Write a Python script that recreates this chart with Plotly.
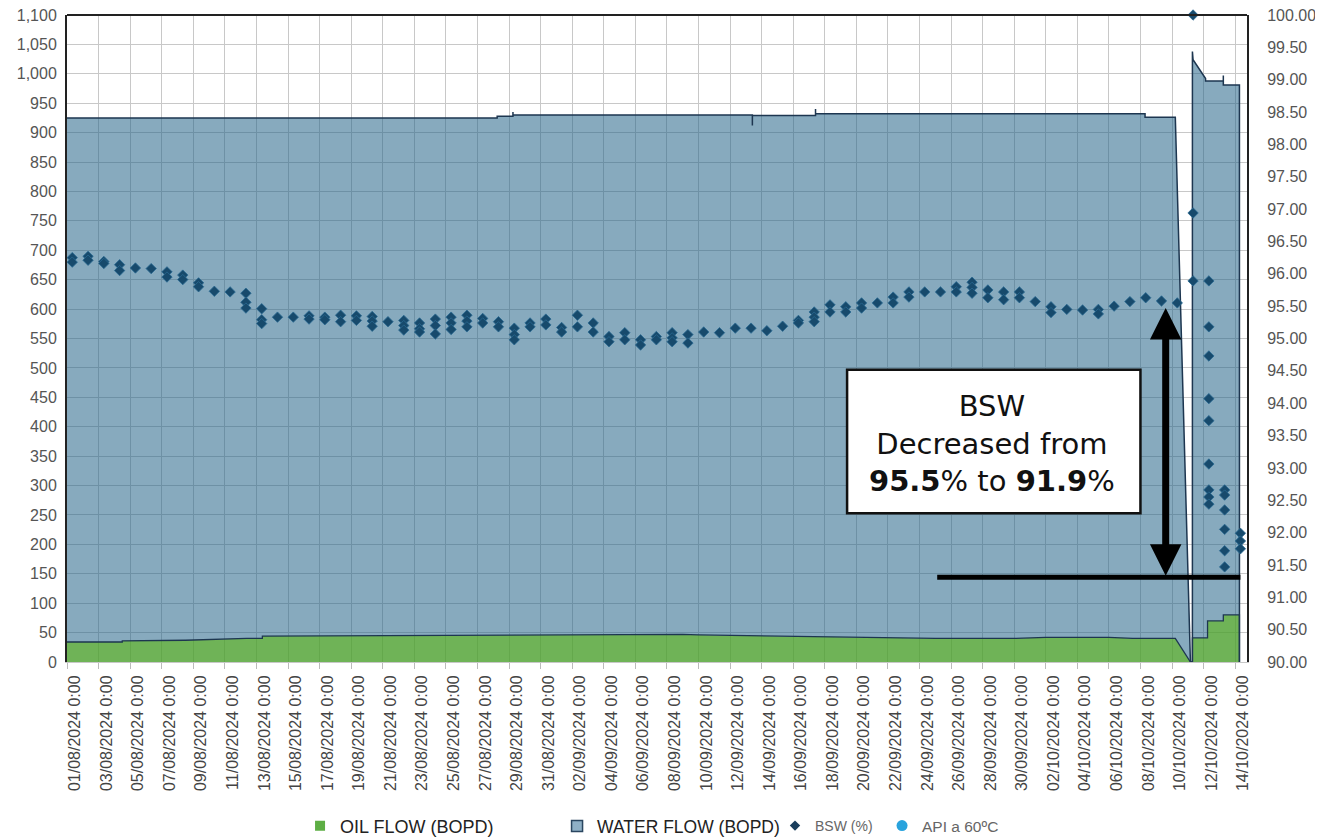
import plotly.graph_objects as go
import pandas as pd

# ---------------- data ----------------
oil_times = ["2024-08-01 00:00", "2024-08-04 12:00", "2024-08-04 12:01", "2024-08-08 12:00",
             "2024-08-08 12:01", "2024-08-12 09:00", "2024-08-13 09:00", "2024-08-13 09:01",
             "2024-08-20 12:00", "2024-08-25 00:00", "2024-09-01 00:00", "2024-09-04 00:00",
             "2024-09-09 00:00", "2024-09-10 00:00", "2024-09-15 00:00", "2024-09-20 00:00",
             "2024-09-25 00:00", "2024-09-30 00:00", "2024-10-02 00:00", "2024-10-06 00:00",
             "2024-10-07 12:00", "2024-10-10 05:00", "2024-10-11 04:00", "2024-10-11 07:00",
             "2024-10-11 07:01", "2024-10-12 06:00", "2024-10-12 06:01", "2024-10-13 06:00",
             "2024-10-13 06:01", "2024-10-14 06:30", "2024-10-14 06:31"]
oil_flow = [34, 34, 36, 36,
            37, 40, 40, 44,
            45, 46, 46, 47,
            47, 46, 44, 42,
            40, 40, 42, 42,
            40, 40, 0, 0,
            41, 41, 70, 70,
            80, 80, 0]

total_times = ["2024-08-01 00:00", "2024-08-28 06:00", "2024-08-28 06:01", "2024-08-29 06:00",
               "2024-08-29 06:01", "2024-08-29 06:02", "2024-09-13 10:00", "2024-09-13 10:01",
               "2024-09-13 10:02", "2024-09-17 10:00", "2024-09-17 10:01", "2024-09-17 10:02",
               "2024-10-08 07:00", "2024-10-08 07:01", "2024-10-10 05:00", "2024-10-11 04:00",
               "2024-10-11 07:00", "2024-10-11 07:01", "2024-10-11 08:00", "2024-10-12 03:00",
               "2024-10-12 03:01", "2024-10-13 06:00", "2024-10-13 06:01", "2024-10-13 06:02",
               "2024-10-14 06:30", "2024-10-14 06:31"]
total_flow = [925, 925, 928, 928,
              935, 930, 930, 912,
              929, 929, 940, 932,
              932, 926, 926, 0,
              0, 1038, 1024, 992,
              988, 988, 997, 981,
              981, 0]

bsw_start = "2024-08-01"
bsw_readings = [
    [96.25, 96.18], [96.27, 96.21], [96.19, 96.16], [96.14, 96.05], [96.09], [96.08],
    [96.03, 95.95], [95.98, 95.91], [95.86, 95.80], [95.73], [95.72], [95.70, 95.56, 95.47],
    [95.46, 95.29, 95.23], [95.33], [95.33], [95.35, 95.30], [95.33, 95.29], [95.36, 95.26],
    [95.35, 95.28], [95.34, 95.27, 95.19], [95.26], [95.28, 95.20, 95.13], [95.24, 95.15, 95.10],
    [95.30, 95.20, 95.07], [95.33, 95.24, 95.14], [95.36, 95.27, 95.18], [95.31, 95.24],
    [95.26, 95.18], [95.16, 95.06, 94.98], [95.24, 95.18], [95.30, 95.21], [95.17, 95.10],
    [95.36, 95.18], [95.24, 95.10], [95.03, 94.95], [95.09, 94.98], [94.98, 94.90],
    [95.03, 94.98], [95.09, 95.01, 94.95], [95.06, 94.93], [95.10], [95.09], [95.16], [95.16],
    [95.12], [95.19], [95.28, 95.24], [95.41, 95.33, 95.26], [95.52, 95.41], [95.49, 95.41],
    [95.55, 95.47], [95.55], [95.64, 95.55], [95.72, 95.64], [95.72], [95.72], [95.80, 95.72],
    [95.87, 95.79, 95.70], [95.75, 95.63], [95.72, 95.60], [95.72, 95.63], [95.57],
    [95.49, 95.40], [95.45], [95.44], [95.45, 95.38], [95.50], [95.57], [95.63], [95.58],
    [95.55], [100.0, 96.94, 95.89],
    [95.89, 95.18, 94.73, 94.07, 93.73, 93.06, 92.66, 92.55, 92.44],
    [92.66, 92.58, 92.35, 92.05, 91.72, 91.47],
    [91.99, 91.87, 91.75],
]

legend_names = ["OIL FLOW (BOPD)", "WATER FLOW (BOPD)", "BSW (%)", "API a 60ºC"]
box_lines = ["BSW", "Decreased from", "<b>95.5</b>% to <b>91.9</b>%"]
bsw_from, bsw_to = 95.47, 91.31

# ---------------- build ----------------
bsw_x, bsw_y = [], []
for i, vals in enumerate(bsw_readings):
    t = pd.Timestamp(bsw_start) + pd.Timedelta(days=i, hours=8)
    for v in vals:
        bsw_x.append(t)
        bsw_y.append(v)

NAVY = "#1d3650"
fig = go.Figure()

fig.add_trace(go.Scatter(x=oil_times, y=oil_flow, mode="lines", fill="tozeroy",
                         fillcolor="rgba(75,160,45,0.80)", line=dict(color=NAVY, width=1.3),
                         showlegend=False, name=legend_names[0]))
fig.add_trace(go.Scatter(x=total_times, y=total_flow, mode="lines", fill="tonexty",
                         fillcolor="rgba(37,100,137,0.55)", line=dict(color=NAVY, width=1.5),
                         showlegend=False, name=legend_names[1]))
fig.add_trace(go.Scatter(x=bsw_x, y=bsw_y, yaxis="y2", mode="markers",
                         marker=dict(symbol="diamond", size=8, color="#174a6c",
                                     line=dict(color="#2a6a92", width=0.8)),
                         cliponaxis=False, showlegend=False, name=legend_names[2]))

# legend-only entries
fig.add_trace(go.Scatter(x=[None], y=[None], mode="markers", name=legend_names[0],
                         marker=dict(symbol="square", size=10, color="#5dae44"), legend="legend"))
fig.add_trace(go.Scatter(x=[None], y=[None], mode="markers", name=legend_names[1],
                         marker=dict(symbol="square", size=11, color="#8fb0c6",
                                     line=dict(color="#2a4660", width=1.5)), legend="legend2"))
fig.add_trace(go.Scatter(x=[None], y=[None], mode="markers", name=legend_names[2],
                         marker=dict(symbol="diamond", size=8, color="#1a3e5c"), legend="legend3"))
fig.add_trace(go.Scatter(x=[None], y=[None], mode="markers", name=legend_names[3],
                         marker=dict(symbol="circle", size=11, color="#29a3dd"), legend="legend4"))

arrow_x = "2024-10-09 14:24"
# box
fig.add_shape(type="rect", xref="x", yref="y", x0="2024-09-19 10:00", x1="2024-10-08 00:00",
              y0=253, y1=497, fillcolor="white", line=dict(color="#111", width=2.5), layer="above")
fig.add_annotation(x="2024-09-28 14:00", y=372, xref="x", yref="y", showarrow=False,
                   text="<br>".join(box_lines), align="center",
                   font=dict(family="DejaVu Sans", size=29, color="#111"))
# horizontal line
fig.add_shape(type="line", xref="x", yref="y2", x0="2024-09-25 03:00", x1="2024-10-14 08:00",
              y0=bsw_to, y1=bsw_to, line=dict(color="black", width=5), layer="above")
# double-headed arrow
fig.add_annotation(x=arrow_x, y=bsw_from, xref="x", yref="y2",
                   ax=arrow_x, ay=bsw_to, axref="x", ayref="y2", text="", showarrow=True,
                   arrowhead=2, startarrowhead=2, arrowside="end+start",
                   arrowwidth=7, arrowsize=0.9, startarrowsize=0.9, arrowcolor="black")
# top frame line
fig.add_shape(type="line", xref="paper", yref="paper", x0=0, x1=1, y0=1, y1=1,
              line=dict(color="#222", width=2), layer="above")

tickfont = dict(family="Liberation Sans", size=16, color="#555")
legy = -0.2535
clear = "rgba(0,0,0,0)"
fig.update_layout(
    width=1323, height=838,
    margin=dict(l=59, r=84, t=7, b=184, autoexpand=False),
    paper_bgcolor="white", plot_bgcolor="white",
    font=dict(family="Liberation Sans"),
    xaxis=dict(type="date", range=["2024-08-01 00:00", "2024-10-14 18:00"],
               tick0="2024-08-01", dtick=2 * 86400000, tickformat="%d/%m/%Y %-H:%M",
               tickangle=-90, tickfont=dict(family="Liberation Sans", size=16, color="#444"),
               ticklabelshift=8,
               showgrid=True, gridcolor="#c8c8c8", gridwidth=1, automargin=False,
               ticks="outside", ticklen=6, tickcolor="#bbbbbb",
               showline=True, linecolor="#c8c8c8", linewidth=1, zeroline=False),
    yaxis=dict(range=[0, 1100], dtick=50, tickformat=",d", tickfont=tickfont,
               showgrid=True, gridcolor="#c8c8c8", gridwidth=1, zeroline=False,
               showline=True, linecolor="#222", linewidth=2, automargin=False,
               ticklabeloverflow="allow",
               ticks="outside", ticklen=5, tickcolor="rgba(0,0,0,0)"),
    yaxis2=dict(range=[90, 100], dtick=0.5, tickformat=".2f", tickfont=tickfont,
                overlaying="y", side="right", showgrid=False, zeroline=False,
                showline=True, linecolor="#222", linewidth=2, automargin=False,
                ticklabeloverflow="allow",
                ticks="outside", ticklen=15, tickcolor="rgba(0,0,0,0)"),
    legend=dict(orientation="h", x=0.1975, y=legy, xanchor="left", yanchor="middle",
                bgcolor=clear, font=dict(size=18, color="#222")),
    legend2=dict(orientation="h", x=0.4153, y=legy, xanchor="left", yanchor="middle",
                 bgcolor=clear, font=dict(size=17.5, color="#222")),
    legend3=dict(orientation="h", x=0.6000, y=legy, xanchor="left", yanchor="middle",
                 bgcolor=clear, font=dict(size=14, color="#666")),
    legend4=dict(orientation="h", x=0.6907, y=legy, xanchor="left", yanchor="middle",
                 bgcolor=clear, font=dict(size=15.5, color="#666")),
)

fig.write_html("out.html")
